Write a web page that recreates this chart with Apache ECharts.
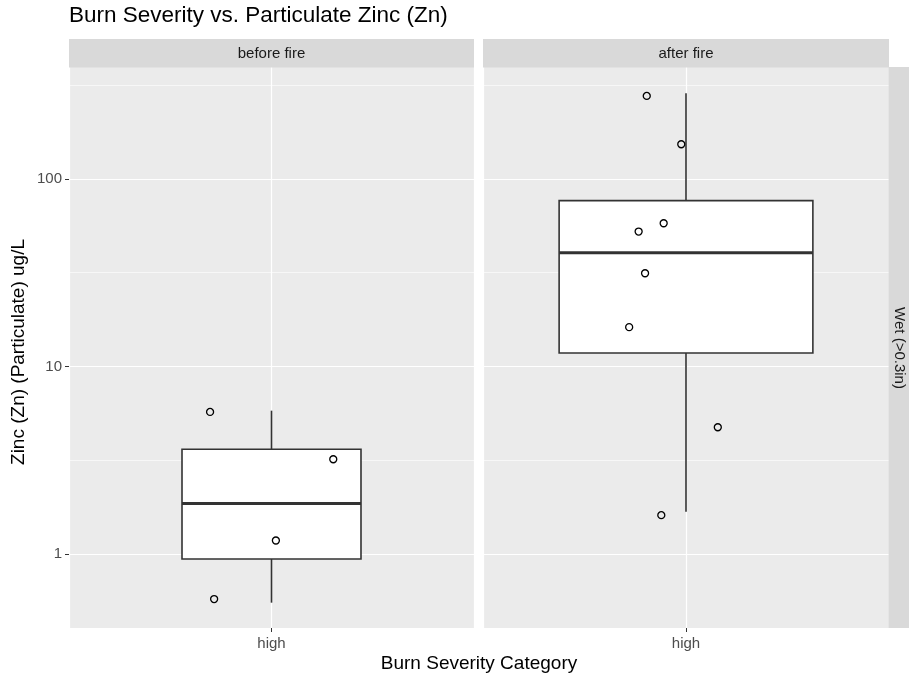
<!DOCTYPE html>
<html><head><meta charset="utf-8">
<script src="https://cdn.jsdelivr.net/npm/echarts@6/dist/echarts.min.js"></script>
<style>html,body{margin:0;padding:0;background:#fff}#c{width:909px;height:677px}</style>
</head><body><div id="c"></div>
<script>
// ---- data ----
var chartTitle = 'Burn Severity vs. Particulate Zinc (Zn)';
var panels = ['before fire', 'after fire'];
var rowLabel = 'Wet (>0.3in)';
var categories = ['high'];
var xTitle = 'Burn Severity Category';
var yTitle = 'Zinc (Zn) (Particulate) ug/L';
// box stats: [lower whisker, Q1, median, Q3, upper whisker]
var boxBefore = [0.55, 0.94, 1.86, 3.62, 5.81];
var boxAfter = [1.68, 11.8, 40.4, 76.6, 286];
var countBefore = 4;
var countAfter = 8;
// jittered points (value, horizontal jitter offset in category units)
var pointsBefore = [5.72, 3.20, 1.18, 0.575];
var jitterBefore = [-0.182, 0.183, 0.013, -0.170];
var pointsAfter = [277, 153, 58.0, 52.4, 31.4, 16.2, 4.74, 1.61];
var jitterAfter = [-0.116, -0.014, -0.066, -0.140, -0.121, -0.168, 0.094, -0.073];
var yTicks = [1, 10, 100];
var yMinorBreaks = [3.1623, 31.623, 316.23];
var yMin = 0.403, yMax = 395;

// ---- chart ----
var FONT = 'Liberation Sans, Arial, sans-serif';
var maxCount = Math.max(countBefore, countAfter);
function boxWidthUnits(n) { return 0.75 * Math.sqrt(n / maxCount); }

function boxRender(widthUnits) {
  return function (params, api) {
    var cs = params.coordSys;
    var xi = api.value(0);
    var pLo = api.coord([xi, api.value(1)]);
    var pQ1 = api.coord([xi, api.value(2)]);
    var pMed = api.coord([xi, api.value(3)]);
    var pQ3 = api.coord([xi, api.value(4)]);
    var pHi = api.coord([xi, api.value(5)]);
    var w = cs.width * widthUnits / 1.2;
    var cx = pMed[0];
    var st = { stroke: '#333333', lineWidth: 1.6, fill: null };
    return {
      type: 'group', children: [
        { type: 'line', shape: { x1: cx, y1: pQ3[1], x2: cx, y2: pHi[1] }, style: st },
        { type: 'line', shape: { x1: cx, y1: pQ1[1], x2: cx, y2: pLo[1] }, style: st },
        { type: 'rect', shape: { x: cx - w / 2, y: pQ3[1], width: w, height: pQ1[1] - pQ3[1] },
          style: { fill: '#ffffff', stroke: '#333333', lineWidth: 1.6 } },
        { type: 'line', shape: { x1: cx - w / 2, y1: pMed[1], x2: cx + w / 2, y2: pMed[1] },
          style: { stroke: '#333333', lineWidth: 3 } }
      ]
    };
  };
}

function pts(vals, jit) { return vals.map(function (v, i) { return [jit[i], v]; }); }

var gridLine = { color: '#ffffff', width: 1.2 };

function catAxis(g) {
  return {
    gridIndex: g, type: 'category', data: categories,
    axisLine: { show: false, onZero: false },
    axisTick: { show: true, alignWithLabel: true, length: 4, lineStyle: { color: '#333333', width: 1 } },
    axisLabel: { color: '#4D4D4D', fontSize: 15, fontFamily: FONT, margin: 8 },
    splitLine: { show: false }
  };
}
function jitAxis(g) {
  return {
    gridIndex: g, type: 'value', min: -0.6, max: 0.6, interval: 0.6, position: 'bottom',
    axisLine: { show: false, onZero: false }, axisTick: { show: false }, axisLabel: { show: false },
    splitLine: { show: true, lineStyle: gridLine }
  };
}
function logAxis(g, showLabels) {
  return {
    gridIndex: g, type: 'log', logBase: 10, min: yMin, max: yMax, position: 'left',
    axisLine: { show: false, onZero: false },
    axisTick: { show: showLabels, length: 4, customValues: yTicks, lineStyle: { color: '#333333', width: 1 } },
    axisLabel: { show: showLabels, customValues: yTicks, color: '#4D4D4D', fontSize: 15, fontFamily: FONT, margin: 7,
      formatter: function (v) { return String(Math.round(v * 1000) / 1000); } },
    splitLine: { show: true, lineStyle: gridLine },
    minorTick: { show: false }, minorSplitLine: { show: false }
  };
}

function minorSeries(xi, yi) {
  return {
    type: 'line', xAxisIndex: xi, yAxisIndex: yi, data: [], z: 1, silent: true,
    markLine: {
      z: 1, silent: true, symbol: 'none', label: { show: false }, animation: false,
      lineStyle: { color: '#ffffff', width: 0.6, type: 'solid' },
      emphasis: { disabled: true },
      data: yMinorBreaks.map(function (v) { return { yAxis: v }; })
    }
  };
}

var option = {
  animation: false,
  backgroundColor: '#ffffff',
  title: {
    text: chartTitle, left: 69, top: 4, padding: 0,
    textStyle: { fontSize: 22.5, fontWeight: 'normal', color: '#000000', fontFamily: FONT }
  },
  grid: [
    { left: 69, right: 909 - 474, top: 67, bottom: 677 - 628, show: true, backgroundColor: '#EBEBEB', borderWidth: 0 },
    { left: 483, right: 909 - 889, top: 67, bottom: 677 - 628, show: true, backgroundColor: '#EBEBEB', borderWidth: 0 }
  ],
  xAxis: [catAxis(0), jitAxis(0), catAxis(1), jitAxis(1)],
  yAxis: [logAxis(0, true), logAxis(1, false)],
  series: [
    minorSeries(1, 0),
    minorSeries(3, 1),
    {
      type: 'custom', xAxisIndex: 0, yAxisIndex: 0, z: 3,
      renderItem: boxRender(boxWidthUnits(countBefore)),
      encode: { x: 0, y: [1, 2, 3, 4, 5] },
      data: [[0].concat(boxBefore)]
    },
    {
      type: 'custom', xAxisIndex: 2, yAxisIndex: 1, z: 3,
      renderItem: boxRender(boxWidthUnits(countAfter)),
      encode: { x: 0, y: [1, 2, 3, 4, 5] },
      data: [[0].concat(boxAfter)]
    },
    {
      type: 'scatter', xAxisIndex: 1, yAxisIndex: 0, z: 5, symbol: 'circle', symbolSize: 7,
      itemStyle: { color: 'rgba(0,0,0,0)', borderColor: '#000000', borderWidth: 1.3, opacity: 1 },
      data: pts(pointsBefore, jitterBefore)
    },
    {
      type: 'scatter', xAxisIndex: 3, yAxisIndex: 1, z: 5, symbol: 'circle', symbolSize: 7,
      itemStyle: { color: 'rgba(0,0,0,0)', borderColor: '#000000', borderWidth: 1.3, opacity: 1 },
      data: pts(pointsAfter, jitterAfter)
    }
  ],
  graphic: [
    { type: 'rect', z: 100, shape: { x: 69, y: 39, width: 405, height: 28.6 }, style: { fill: '#D9D9D9' } },
    { type: 'rect', z: 100, shape: { x: 483, y: 39, width: 406, height: 28.6 }, style: { fill: '#D9D9D9' } },
    { type: 'rect', z: 100, shape: { x: 888.6, y: 67, width: 21, height: 561 }, style: { fill: '#D9D9D9' } },
    { type: 'text', z: 101, x: 271.5, y: 53.5, style: { text: panels[0], fill: '#1A1A1A', fontSize: 15, fontFamily: FONT, textAlign: 'center', textVerticalAlign: 'middle' } },
    { type: 'text', z: 101, x: 686, y: 53.5, style: { text: panels[1], fill: '#1A1A1A', fontSize: 15, fontFamily: FONT, textAlign: 'center', textVerticalAlign: 'middle' } },
    { type: 'text', z: 101, x: 899, y: 348, rotation: -Math.PI / 2, style: { text: rowLabel, fill: '#1A1A1A', fontSize: 15, fontFamily: FONT, textAlign: 'center', textVerticalAlign: 'middle' } },
    { type: 'text', z: 101, x: 479, y: 664, style: { text: xTitle, fill: '#000000', fontSize: 19, fontFamily: FONT, textAlign: 'center', textVerticalAlign: 'middle' } },
    { type: 'text', z: 101, x: 19, y: 352, rotation: Math.PI / 2, style: { text: yTitle, fill: '#000000', fontSize: 19, fontFamily: FONT, textAlign: 'center', textVerticalAlign: 'middle' } }
  ]
};

var chart = echarts.init(document.getElementById('c'), null, { renderer: 'canvas' });
chart.setOption(option);
</script>
</body></html>
